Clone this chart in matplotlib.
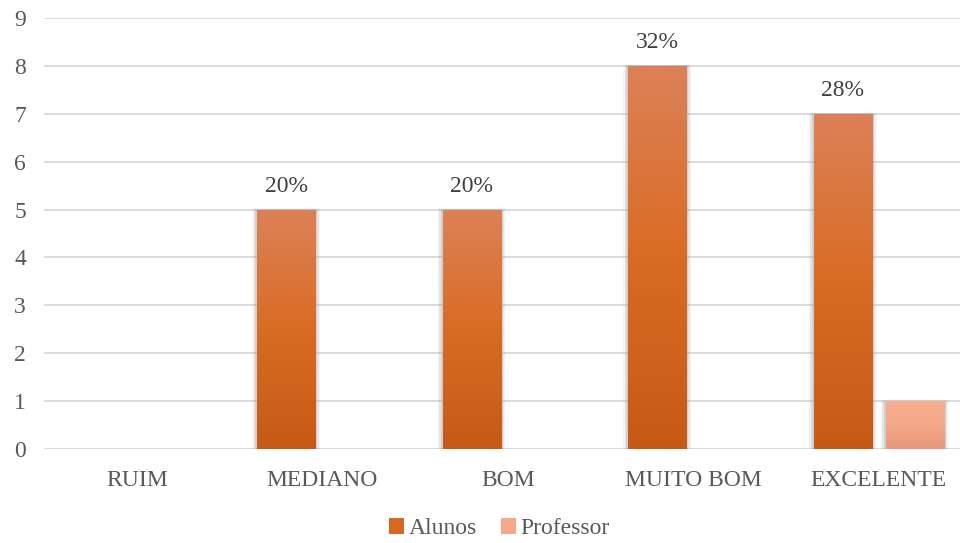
import numpy as np
import matplotlib
matplotlib.use("Agg")
import matplotlib.pyplot as plt
from matplotlib.colors import LinearSegmentedColormap
from matplotlib.patches import Rectangle, Patch

categories = ["RUIM", "MEDIANO", "BOM", "MUITO BOM", "EXCELENTE"]
alunos = [0, 5, 5, 8, 7]
professor = [0, 0, 0, 0, 1]
alunos_labels = ["", "20%", "20%", "32%", "28%"]
yticks = list(range(0, 10))

plt.rcParams['font.family'] = ['Liberation Serif', 'DejaVu Serif']

fig = plt.figure(figsize=(9.6, 5.43), dpi=100)
ax = fig.add_axes([44 / 960, 1 - 449 / 543, 927.5 / 960, 431 / 543])

x = np.arange(len(categories))
width = 0.313
offset = 0.194

alunos_cmap = LinearSegmentedColormap.from_list("al", ["#c65915", "#d96c24", "#dc8158"])
prof_cmap = LinearSegmentedColormap.from_list("pr", ["#e8957a", "#f3a98a", "#f5ae90"])


def gradient_bar(xc, h, cmap):
    if h <= 0:
        return
    left = xc - width / 2
    # soft grey shadow around the bar
    for pad, a in [(0.028, 0.10), (0.019, 0.18), (0.010, 0.3)]:
        ax.add_patch(Rectangle((left - pad, -0.05), width + 2 * pad, h + 0.05 + pad * 0.9,
                               facecolor="#a0a0a0", edgecolor="none", alpha=a, zorder=2))
    grad = np.linspace(0, 1, 256).reshape(-1, 1)
    im = ax.imshow(grad, cmap=cmap, origin="lower", aspect="auto",
                   extent=(left, left + width, 0, h), zorder=3)
    clip = Rectangle((left, 0), width, h, transform=ax.transData)
    im.set_clip_path(clip)


for i in range(len(categories)):
    gradient_bar(x[i] - offset, alunos[i], alunos_cmap)
    gradient_bar(x[i] + offset, professor[i], prof_cmap)
    if alunos_labels[i]:
        ax.text(x[i] - offset, alunos[i] + 0.27, alunos_labels[i], ha="center", va="bottom",
                fontsize=17, color="#404040", zorder=4)

ax.set_xlim(-0.5, 4.5)
ax.set_ylim(0, 9)
ax.set_yticks(yticks)
ax.set_xticks(x)
ax.set_xticklabels(categories)
ax.tick_params(axis="both", length=0, labelsize=17, labelcolor="#595959")
ax.tick_params(axis="x", pad=15)
ax.tick_params(axis="y", pad=13)
ax.grid(axis="y", color="#d9d9d9", linewidth=1.3, zorder=0)
ax.set_axisbelow(True)
for s in ax.spines.values():
    s.set_visible(False)

handles = [Patch(facecolor="#d5691f", edgecolor="none", label="Alunos"),
           Patch(facecolor="#f4a98a", edgecolor="none", label="Professor")]
fig.legend(handles=handles, loc="center", bbox_to_anchor=(0.52, 0.026), ncol=2, frameon=False,
           fontsize=17, labelcolor="#595959", handlelength=0.65, handleheight=0.65,
           handletextpad=0.2, columnspacing=1.0)

fig.savefig("out.png", dpi=100)
